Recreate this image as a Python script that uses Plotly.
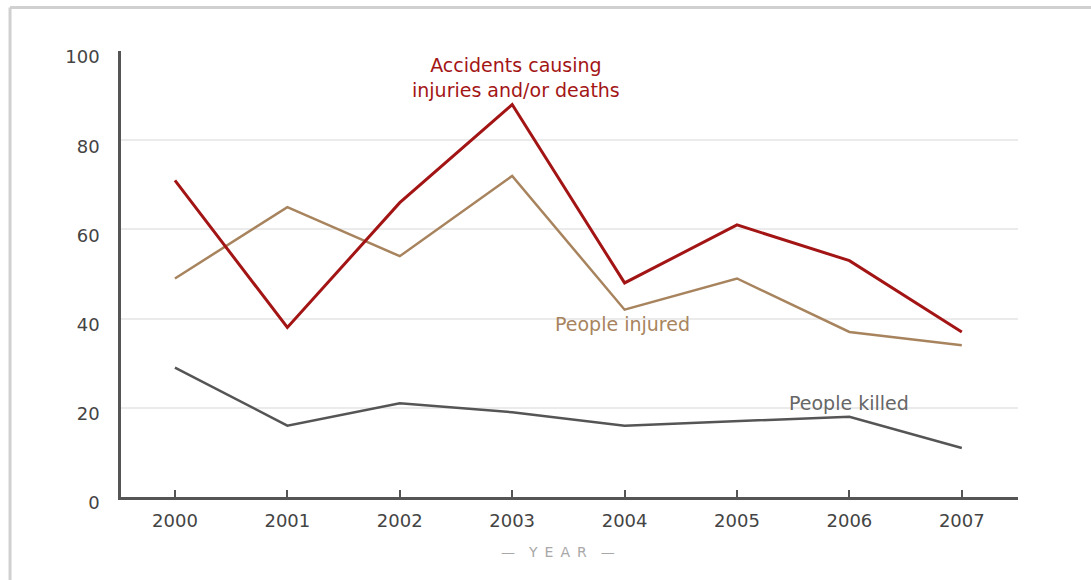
import plotly.graph_objects as go

years = [2000, 2001, 2002, 2003, 2004, 2005, 2006, 2007]
accidents = [71, 38, 66, 88, 48, 61, 53, 37]
injured = [49, 65, 54, 72, 42, 49, 37, 34]
killed = [29, 16, 21, 19, 16, 17, 18, 11]
y_ticks = [0, 20, 40, 60, 80, 100]

RED = "#a31515"
TAN = "#a8845e"
GRAY = "#555555"
FONT = "Verdana, DejaVu Sans"

fig = go.Figure()
fig.add_trace(go.Scatter(x=years, y=killed, mode="lines", line=dict(color=GRAY, width=2.5), hoverinfo="skip"))
fig.add_trace(go.Scatter(x=years, y=injured, mode="lines", line=dict(color=TAN, width=2.5), hoverinfo="skip"))
fig.add_trace(go.Scatter(x=years, y=accidents, mode="lines", line=dict(color=RED, width=3), hoverinfo="skip"))

fig.add_annotation(x=2003.03, y=94, text="Accidents causing<br>injuries and/or deaths", showarrow=False,
                   font=dict(family=FONT, size=19, color=RED), xanchor="center", yanchor="middle")
fig.add_annotation(x=2003.98, y=38.8, text="People injured", showarrow=False,
                   font=dict(family=FONT, size=19, color=TAN), xanchor="center", yanchor="middle")
fig.add_annotation(x=2006.0, y=21.1, text="People killed", showarrow=False,
                   font=dict(family=FONT, size=19, color="#666666"), xanchor="center", yanchor="middle")
fig.add_annotation(xref="paper", yref="paper", x=0.487, y=-0.123,
                   text="—\u2002\u2002Y\u2002E\u2002A\u2002R\u2002\u2002—", showarrow=False,
                   font=dict(family=FONT, size=14, color="#a8a8a8"), xanchor="center", yanchor="middle")

# frame
fig.add_shape(type="line", xref="paper", yref="paper", x0=-0.1237, x1=-0.1237, y0=-0.3, y1=1.0975,
              line=dict(color="#d0d0d0", width=3))
fig.add_shape(type="line", xref="paper", yref="paper", x0=-0.1237, x1=1.2, y0=1.0975, y1=1.0975,
              line=dict(color="#d0d0d0", width=3))

fig.update_layout(
    width=1091, height=580,
    margin=dict(l=121, r=73, t=51, b=83),
    paper_bgcolor="white", plot_bgcolor="white",
    showlegend=False,
    font=dict(family=FONT, color="#444444"),
    xaxis=dict(range=[1999.52, 2007.5], tickvals=years, ticktext=[str(y) for y in years],
               showgrid=False, zeroline=False, showline=True, linecolor=GRAY, linewidth=2.5,
               ticks="inside", ticklen=7, tickwidth=2, tickcolor=GRAY,
               ticklabelstandoff=6,
               tickfont=dict(family=FONT, size=18, color="#444444")),
    yaxis=dict(range=[0, 100], tickvals=y_ticks, showgrid=True, gridcolor="#ebebeb", gridwidth=1.5,
               zeroline=False, showline=True, linecolor=GRAY, linewidth=2.5, ticks="",
               ticklabelstandoff=15, ticklabelshift=6,
               tickfont=dict(family=FONT, size=18, color="#444444")),
)

fig.write_html("out.html")
